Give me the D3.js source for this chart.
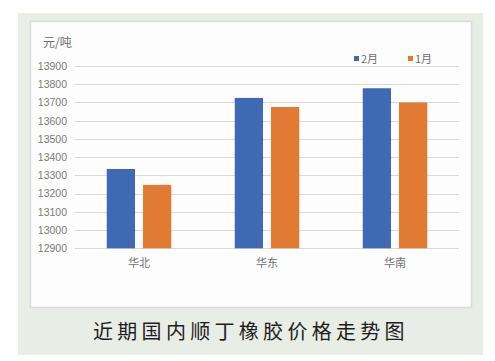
<!DOCTYPE html>
<html>
<head>
<meta charset="utf-8">
<style>
  body { margin: 0; background: #fff; }
  svg text { font-family: "Liberation Sans", "Noto Sans CJK SC", sans-serif; }
</style>
<script src="https://cdn.jsdelivr.net/npm/d3@7"></script>
</head>
<body>
<svg id="chart" width="495" height="361"></svg>
<script>
  const regions = ['华北', '华东', '华南']
  const seriesNames = ['2月', '1月']
  const feb = [13335, 13725, 13778]
  const jan = [13248, 13675, 13700]
  const yTicks = [12900, 13000, 13100, 13200, 13300, 13400, 13500, 13600, 13700, 13800, 13900]
  const colors = ['#3f69b3', '#e07a35']

  const svg = d3.select('#chart')

  // outer panel and card
  svg.append('rect').attr('x', 18).attr('y', 13).attr('width', 465).attr('height', 342).attr('fill', '#e8ede6')
  svg.append('rect').attr('x', 30.5).attr('y', 21.5).attr('width', 441).attr('height', 286)
    .attr('fill', '#fdfdfd').attr('stroke', '#d9dcd8').attr('stroke-width', 1.5)

  const x0 = d3.scaleBand().domain(regions).range([75, 459])
  const x1 = d3.scaleBand().domain(seriesNames).range([0, 64.5]).paddingInner(0.22)
  const y = d3.scaleLinear().domain([12900, 13900]).range([248.3, 66])

  // gridlines
  svg.append('g').selectAll('line').data(yTicks).join('line')
    .attr('x1', 75).attr('x2', 459)
    .attr('y1', d => Math.round(y(d)) + 0.5).attr('y2', d => Math.round(y(d)) + 0.5)
    .attr('stroke', '#d9d9d9').attr('stroke-width', 1.2)

  // y axis labels
  const yAxis = d3.axisLeft(y).tickValues(yTicks).tickSize(0).tickPadding(0).tickFormat(d3.format('d'))
  const ya = svg.append('g').attr('transform', 'translate(67,0)').call(yAxis)
  ya.select('.domain').remove()
  ya.selectAll('text').attr('fill', '#7a7a7a').style('font-size', '10.5px')
    .style('font-family', '"Liberation Sans Narrow", "Liberation Sans", sans-serif')

  // unit
  svg.append('text').attr('x', 43).attr('y', 47).text('元/吨')
    .attr('fill', '#6e6e6e').style('font-size', '12px').style('font-family', '"Noto Sans CJK SC", sans-serif')

  // bars
  const data = regions.map((r, i) => ({ region: r, values: [feb[i], jan[i]] }))
  const groups = svg.append('g').selectAll('g').data(data).join('g')
    .attr('transform', d => `translate(${x0(d.region) + (x0.bandwidth() - 64.5) / 2},0)`)
  groups.selectAll('rect').data(d => d.values.map((v, j) => ({ key: seriesNames[j], v, j })))
    .join('rect')
    .attr('x', d => x1(d.key)).attr('width', x1.bandwidth())
    .attr('y', d => y(d.v)).attr('height', d => y(12900) - y(d.v))
    .attr('fill', d => colors[d.j])

  // x labels
  svg.append('g').selectAll('text').data(regions).join('text')
    .attr('x', d => x0(d) + x0.bandwidth() / 2).attr('y', 267)
    .attr('text-anchor', 'middle').text(d => d)
    .attr('fill', '#6e6e6e').style('font-size', '11px').style('font-family', '"Noto Sans CJK SC", sans-serif')

  // legend
  const legX = [354, 408]
  const leg = svg.append('g').selectAll('g').data(seriesNames).join('g')
    .attr('transform', (d, i) => `translate(${legX[i]},0)`)
  leg.append('rect').attr('x', 0).attr('y', 56).attr('width', 5).attr('height', 5).attr('fill', (d, i) => colors[i])
  leg.append('text').attr('x', 7).attr('y', 62.5).text(d => d)
    .attr('fill', '#6e6e6e').style('font-size', '11px').style('font-family', '"Noto Sans CJK SC", sans-serif')

  // title
  svg.append('text').attr('x', 93).attr('y', 339)
    .text('近期国内顺丁橡胶价格走势图')
    .attr('fill', '#1e1e1e').style('font-size', '20px').style('letter-spacing', '4.3px')
    .style('font-family', '"Noto Sans CJK SC", sans-serif')
</script>
</body>
</html>
